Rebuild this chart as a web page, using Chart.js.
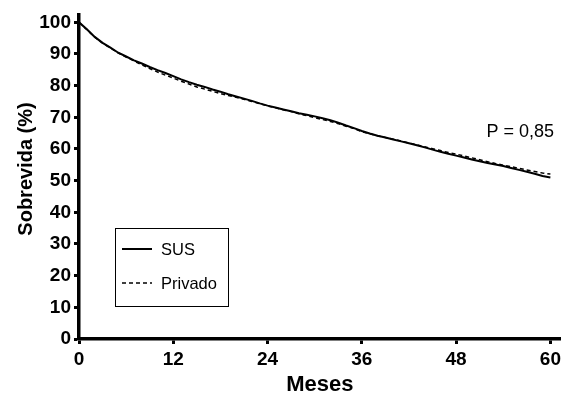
<!DOCTYPE html>
<html>
<head>
<meta charset="utf-8">
<script src="https://cdn.jsdelivr.net/npm/chart.js@4"></script>
<style>
html,body{margin:0;padding:0;background:#fff;}
#wrap{width:565px;height:396px;position:relative;}
</style>
</head>
<body>
<div id="wrap"><canvas id="c" width="565" height="396"></canvas></div>
<script>
const months = Array.from({length: 61}, (_, i) => i);
const xTicks = [0, 12, 24, 36, 48, 60];
const yTicks = [0, 10, 20, 30, 40, 50, 60, 70, 80, 90, 100];
const seriesNames = ['SUS', 'Privado'];
const sus = [100,97.8,95.4,93.5,92.0,90.4,89.2,88.0,87.0,85.9,84.9,84.0,83.0,82.0,81.1,80.3,79.6,78.8,78.1,77.3,76.6,75.9,75.2,74.4,73.7,73.1,72.5,71.9,71.3,70.8,70.3,69.7,69.1,68.3,67.4,66.6,65.7,64.9,64.2,63.6,63.0,62.4,61.8,61.2,60.5,59.8,59.1,58.5,57.9,57.3,56.7,56.1,55.6,55.1,54.6,54.0,53.4,52.8,52.2,51.5,51.0];
const privado = [100,97.7,95.3,93.4,91.9,90.3,89.0,87.8,86.6,85.4,84.3,83.3,82.4,81.4,80.5,79.6,78.9,78.2,77.5,76.9,76.3,75.7,75.0,74.3,73.6,73.0,72.4,71.8,71.1,70.5,69.9,69.3,68.7,68.0,67.2,66.4,65.5,64.8,64.2,63.6,63.1,62.5,61.9,61.3,60.7,60.1,59.5,58.9,58.4,57.8,57.2,56.6,56.0,55.4,54.9,54.4,53.9,53.4,52.9,52.4,52.1];
const pText = 'P = 0,85';
const yTitle = 'Sobrevida (%)';
const xTitle = 'Meses';

const FONT = '"Liberation Sans", Arial, Helvetica, sans-serif';

const legendPlugin = {
  id: 'boxLegend',
  afterDraw(chart) {
    const ctx = chart.ctx;
    ctx.save();
    ctx.strokeStyle = '#000';
    ctx.lineWidth = 1;
    ctx.strokeRect(115.5, 228.5, 113, 78);
    const ds = chart.data.datasets;
    const rows = [249, 283];
    ds.forEach((d, i) => {
      ctx.beginPath();
      ctx.lineWidth = d.borderWidth;
      ctx.setLineDash(d.borderDash || []);
      ctx.moveTo(122, rows[i]);
      ctx.lineTo(152, rows[i]);
      ctx.stroke();
      ctx.setLineDash([]);
      ctx.fillStyle = '#000';
      ctx.font = '16.5px ' + FONT;
      ctx.textBaseline = 'middle';
      ctx.textAlign = 'left';
      ctx.fillText(d.label, 161, rows[i] + 1);
    });
    ctx.font = '18px ' + FONT;
    ctx.textAlign = 'right';
    ctx.textBaseline = 'alphabetic';
    ctx.fillText(pText, 554, 137);
    // y axis title
    ctx.translate(26, 169);
    ctx.rotate(-Math.PI / 2);
    ctx.font = 'bold 20px ' + FONT;
    ctx.textAlign = 'center';
    ctx.textBaseline = 'middle';
    ctx.fillText(yTitle, 0, 0);
    ctx.restore();
  }
};

new Chart(document.getElementById('c'), {
  type: 'line',
  data: {
    labels: months,
    datasets: [
      { label: seriesNames[0], data: months.map((m, i) => ({x: m, y: sus[i]})), borderColor: '#000', borderWidth: 2, pointRadius: 0, tension: 0, fill: false },
      { label: seriesNames[1], data: months.map((m, i) => ({x: m, y: privado[i]})), borderColor: '#000', borderWidth: 1.5, borderDash: [4, 3], pointRadius: 0, tension: 0, fill: false }
    ]
  },
  options: {
    responsive: false,
    animation: false,
    devicePixelRatio: 1,
    layout: { padding: { top: 13, right: 2, left: 0, bottom: 0 } },
    plugins: { legend: { display: false }, tooltip: { enabled: false } },
    scales: {
      x: {
        type: 'linear', min: 0, max: 61.3,
        afterBuildTicks: s => { s.ticks = xTicks.map(v => ({value: v})); },
        afterFit: s => { s.height = 57; },
        border: { display: true, color: '#000', width: 3.5 },
        grid: { display: true, drawOnChartArea: false, drawTicks: true, tickLength: 5, tickWidth: 3, tickColor: '#000' },
        ticks: { color: '#000', font: { family: FONT, size: 19, weight: 'bold' }, padding: 4, maxRotation: 0, autoSkip: false },
        title: { display: true, text: xTitle, color: '#000', font: { family: FONT, size: 22, weight: 'bold' }, padding: { top: 0, bottom: -2 } }
      },
      y: {
        type: 'linear', min: 0, max: 102.5,
        afterBuildTicks: s => { s.ticks = yTicks.map(v => ({value: v})); },
        afterFit: s => { s.width = 79; },
        border: { display: true, color: '#000', width: 3.5 },
        grid: { display: true, drawOnChartArea: false, drawTicks: true, tickLength: 5, tickWidth: 3, tickColor: '#000' },
        ticks: { color: '#000', font: { family: FONT, size: 19, weight: 'bold' }, padding: 3, autoSkip: false },
        title: { display: false }
      }
    }
  },
  plugins: [legendPlugin]
});
</script>
</body>
</html>
